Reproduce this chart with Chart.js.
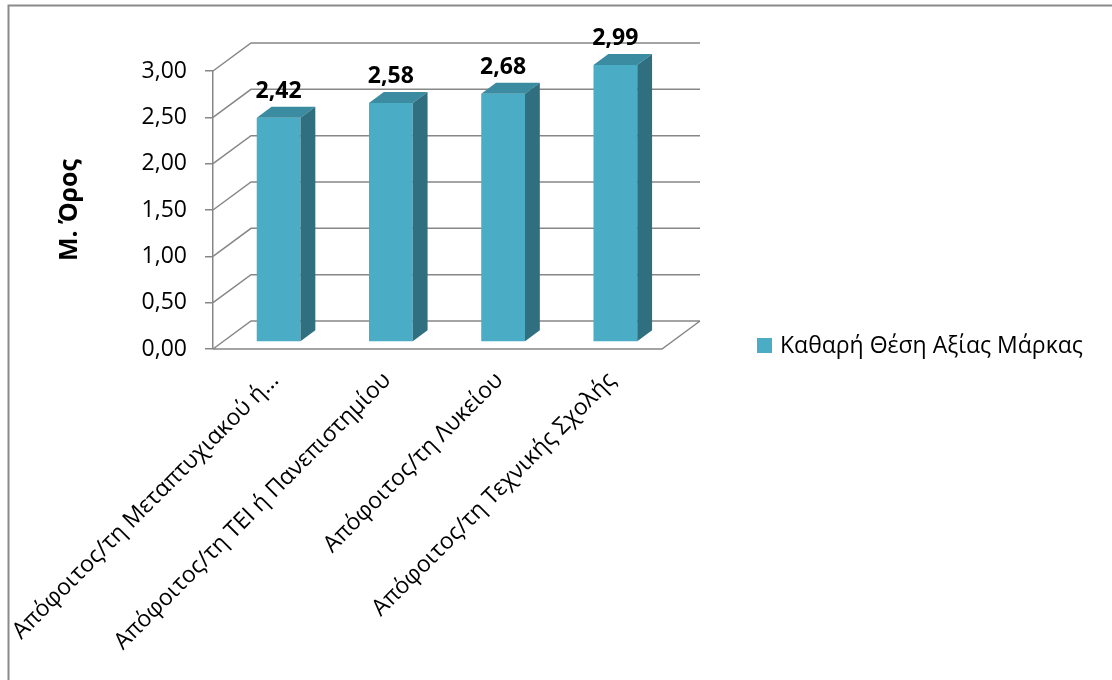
<!DOCTYPE html>
<html>
<head>
<meta charset="utf-8">
<title>Καθαρή Θέση Αξίας Μάρκας</title>
<script src="https://cdn.jsdelivr.net/npm/chart.js@4.4.0/dist/chart.umd.min.js"></script>
<style>
  html, body { margin: 0; padding: 0; background: #fff; }
  canvas { display: block; }
</style>
</head>
<body>
<canvas id="brandChart" width="1112" height="680"></canvas>
<script>
// Data
const categories = [
    'Απόφοιτος/τη Μεταπτυχιακού ή...',
    'Απόφοιτος/τη ΤΕΙ ή Πανεπιστημίου',
    'Απόφοιτος/τη Λυκείου',
    'Απόφοιτος/τη Τεχνικής Σχολής'
];
const meanValues = [2.42, 2.58, 2.68, 2.99];
const yTicks = [0, 0.5, 1, 1.5, 2, 2.5, 3];
const seriesName = 'Καθαρή Θέση Αξίας Μάρκας';
const axisTitle = 'Μ. Όρος';

const fmt = v => v.toFixed(2).replace('.', ',');

Chart.defaults.font.family = "'Open Sans', sans-serif";
Chart.defaults.color = '#000';

const GRID = '#878787';
const FRONT = '#4bacc6';
const TOP = '#3b8ba1';
const SIDE = '#306f80';

// walls go back by (wallX, wallY); bars sit a bit behind the front edge
const wallX = 38, wallY = -28;
const barStart = 0.25, barDepth = 0.39;

const box3d = {
    id: 'box3d',
    beforeDraw(chart) {
        const ctx = chart.ctx;
        ctx.save();
        ctx.fillStyle = '#fff';
        ctx.fillRect(0, 0, chart.width, chart.height);
        // outer frame (left and top edges)
        ctx.strokeStyle = '#8a8a8a';
        ctx.lineWidth = 2;
        ctx.beginPath();
        ctx.moveTo(8.5, chart.height);
        ctx.lineTo(8.5, 5.5);
        ctx.lineTo(chart.width, 5.5);
        ctx.stroke();
        ctx.restore();
    },
    beforeDatasetsDraw(chart) {
        const ctx = chart.ctx;
        const {left, right, bottom} = chart.chartArea;
        const y = chart.scales.y;
        ctx.save();
        ctx.strokeStyle = GRID;
        ctx.lineWidth = 1.5;
        ctx.beginPath();
        yTicks.forEach(v => {
            const py = y.getPixelForValue(v);
            ctx.moveTo(left, py);
            ctx.lineTo(left + wallX, py + wallY);
            ctx.lineTo(right + wallX, py + wallY);
        });
        // floor
        ctx.moveTo(left, bottom);
        ctx.lineTo(right, bottom);
        ctx.lineTo(right + wallX, bottom + wallY);
        ctx.stroke();
        ctx.restore();

        // bars are drawn in a plane behind the front edge
        ctx.save();
        ctx.translate(wallX * barStart, wallY * barStart);
    },
    afterDatasetsDraw(chart) {
        const ctx = chart.ctx;
        const bx = wallX * barDepth, by = wallY * barDepth;
        const meta = chart.getDatasetMeta(0);
        meta.data.forEach((el, i) => {
            const {x, y, base, width} = el.getProps(['x', 'y', 'base', 'width'], true);
            const x0 = x - width / 2, x1 = x + width / 2;
            ctx.fillStyle = TOP;
            ctx.beginPath();
            ctx.moveTo(x0, y);
            ctx.lineTo(x1, y);
            ctx.lineTo(x1 + bx, y + by);
            ctx.lineTo(x0 + bx, y + by);
            ctx.closePath();
            ctx.fill();
            ctx.fillStyle = SIDE;
            ctx.beginPath();
            ctx.moveTo(x1, y);
            ctx.lineTo(x1 + bx, y + by);
            ctx.lineTo(x1 + bx, base + by);
            ctx.lineTo(x1, base);
            ctx.closePath();
            ctx.fill();

            // value label
            ctx.fillStyle = '#000';
            ctx.font = "bold 23px 'Open Sans', sans-serif";
            ctx.textAlign = 'center';
            ctx.textBaseline = 'alphabetic';
            ctx.fillText(fmt(meanValues[i]), x, y - 20);
        });
        ctx.restore();
    },
    afterDraw(chart) {
        // legend
        const ctx = chart.ctx;
        ctx.save();
        ctx.fillStyle = FRONT;
        ctx.fillRect(757, 338, 15, 15);
        ctx.fillStyle = '#000';
        ctx.font = "23px 'Open Sans', sans-serif";
        ctx.textAlign = 'left';
        ctx.textBaseline = 'middle';
        ctx.fillText(seriesName, 780, 346);
        ctx.restore();
    }
};

new Chart(document.getElementById('brandChart'), {
    type: 'bar',
    data: {
        labels: categories,
        datasets: [{
            label: seriesName,
            data: meanValues,
            backgroundColor: FRONT,
            borderWidth: 0,
            barPercentage: 0.39,
            categoryPercentage: 1,
            clip: false
        }]
    },
    options: {
        responsive: false,
        animation: false,
        layout: { padding: { left: 10, top: 71, right: 450, bottom: 0 } },
        plugins: {
            legend: { display: false },
            tooltip: { enabled: false }
        },
        scales: {
            x: {
                grid: { display: false },
                border: { display: false },
                ticks: {
                    autoSkip: false,
                    minRotation: 45,
                    maxRotation: 45,
                    padding: 10,
                    labelOffset: 6,
                    font: { size: 23 }
                },
                afterFit(scale) {
                    scale.height = 331;
                    scale.paddingLeft = 0;
                    scale.paddingRight = 0;
                }
            },
            y: {
                min: 0,
                max: 3,
                afterBuildTicks(scale) {
                    scale.ticks = yTicks.map(v => ({ value: v }));
                },
                grid: {
                    drawOnChartArea: false,
                    drawTicks: true,
                    tickLength: 8,
                    color: GRID,
                    lineWidth: 1.5
                },
                border: { display: true, color: GRID, width: 1.5 },
                ticks: {
                    padding: 18,
                    font: { size: 23 },
                    callback: v => fmt(v)
                },
                title: {
                    display: true,
                    text: axisTitle,
                    font: { size: 25, weight: 'bold' },
                    padding: { top: 45, bottom: 0 }
                },
                afterFit(scale) {
                    scale.width = 203;
                }
            }
        }
    },
    plugins: [box3d]
});
</script>
</body>
</html>
